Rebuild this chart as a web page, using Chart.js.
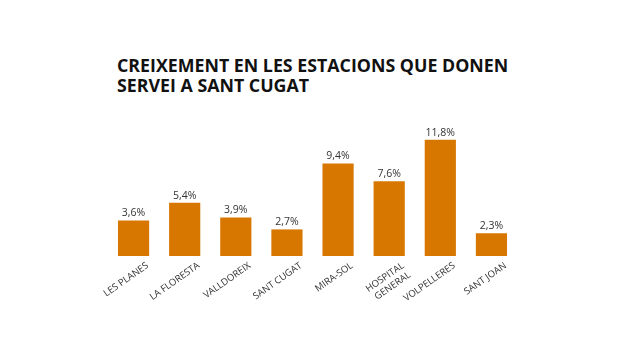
<!DOCTYPE html>
<html>
<head>
<meta charset="utf-8">
<script src="https://cdn.jsdelivr.net/npm/chart.js@4.4.1/dist/chart.umd.min.js"></script>
<style>
  html, body { margin: 0; padding: 0; background: #fff; }
  #wrap { position: relative; width: 625px; height: 352px; }
  #title {
    position: absolute; left: 117px; top: 55px;
    font-family: "Open Sans", sans-serif; font-weight: 700;
    font-size: 17.8px; line-height: 20px; color: #111;
    margin: 0;
  }
  canvas { position: absolute; left: 0; top: 0; }
</style>
</head>
<body>
<div id="wrap">
  <h1 id="title">CREIXEMENT EN LES ESTACIONS QUE DONEN<br>SERVEI A SANT CUGAT</h1>
  <canvas id="chart" width="625" height="352"></canvas>
</div>
<script>
const stations = [
  "LES PLANES",
  "LA FLORESTA",
  "VALLDOREIX",
  "SANT CUGAT",
  "MIRA-SOL",
  ["HOSPITAL", "GENERAL"],
  "VOLPELLERES",
  "SANT JOAN"
];
const growth = [3.6, 5.4, 3.9, 2.7, 9.4, 7.6, 11.8, 2.3];

const BAR_COLOR = "#d87700";

// percentage labels above each bar
const valueLabels = {
  id: "valueLabels",
  afterDatasetsDraw(chart) {
    const ctx = chart.ctx;
    const meta = chart.getDatasetMeta(0);
    ctx.save();
    ctx.font = "10.5px 'Open Sans', sans-serif";
    ctx.fillStyle = "#333";
    ctx.textAlign = "center";
    ctx.textBaseline = "bottom";
    meta.data.forEach((bar, i) => {
      ctx.fillText(formatPct(growth[i]), bar.x, bar.y - 2);
    });
    ctx.restore();
  }
};

function formatPct(value) {
  return value.toFixed(1).replace(".", ",") + "%";
}

new Chart(document.getElementById("chart"), {
  type: "bar",
  data: {
    labels: stations,
    datasets: [{
      data: growth,
      backgroundColor: BAR_COLOR,
      borderWidth: 0,
      categoryPercentage: 1,
      barPercentage: 0.61
    }]
  },
  options: {
    responsive: false,
    animation: false,
    layout: { padding: { left: 108, right: 108, top: 128, bottom: 36 } },
    plugins: {
      legend: { display: false },
      tooltip: { enabled: false }
    },
    scales: {
      x: {
        grid: { display: false, drawTicks: false },
        border: { display: false },
        ticks: {
          autoSkip: false,
          minRotation: 35,
          maxRotation: 35,
          labelOffset: 14,
          padding: 4,
          color: "#333",
          font: { family: "'Open Sans', sans-serif", size: 9.5 }
        },
        afterFit(scale) {
          scale.height = 60;
        }
      },
      y: {
        display: false,
        min: 0,
        max: 13
      }
    }
  },
  plugins: [valueLabels]
});
</script>
</body>
</html>
